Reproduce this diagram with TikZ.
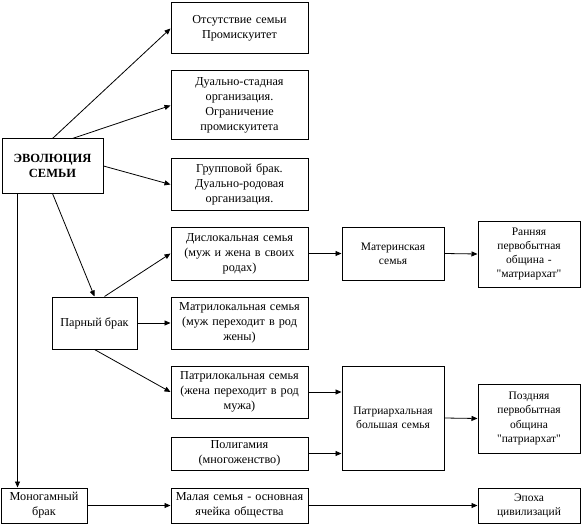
\documentclass[tikz,border=0pt]{standalone}
\usepackage{fontspec}
\setmainfont{Liberation Serif}[Ligatures=TeXOff]
\usetikzlibrary{arrows.meta,positioning,calc}

\begin{document}
\begin{tikzpicture}[
    x=1pt, y=-1pt,
    font=\fontsize{12.2}{15}\selectfont,
    stage/.style={draw=black, fill=white, align=center, inner sep=1pt,
                  line width=1pt, minimum width=137pt, text width=134pt},
    side/.style={draw=black, fill=white, align=center, inner sep=2pt,
                 line width=1pt},
    result/.style={draw=black, fill=white, align=center, inner sep=1pt,
                   line width=1pt, minimum width=102pt, text width=99pt,
                   font=\fontsize{11.5}{14.3}\selectfont},
    arrow/.style={-{Triangle[length=6pt,width=5pt]}, line width=0.8pt, draw=black}
]
\useasboundingbox (0,0) rectangle (581,524);

\node[side, minimum width=101pt, minimum height=54pt, font=\fontsize{12.5}{15}\selectfont\bfseries] (evo) at (52.5,166) {ЭВОЛЮЦИЯ\\СЕМЬИ};

\node[stage, minimum height=51pt] (absent) at (239.5,28.5) {Отсутствие семьи\\Промискуитет};
\node[stage, minimum height=69pt] (dual) at (239.5,105.5) {Дуально-стадная\\организация.\\Ограничение\\промискуитета};
\node[stage, minimum height=51pt] (group) at (239.5,184.5) {Групповой брак.\\Дуально-родовая\\организация.};
\node[stage, minimum height=53pt] (disloc) at (239.5,253.5) {Дислокальная семья\\(муж и жена в своих\\родах)};
\node[stage, minimum height=52pt] (matriloc) at (239.5,323) {Матрилокальная семья\\(муж переходит в род\\жены)};
\node[stage, minimum height=52pt] (patriloc) at (239.5,392) {Патрилокальная семья\\(жена переходит в род\\мужа)};
\node[stage, minimum height=33pt] (polyg) at (239.5,453.5) {Полигамия\\(многоженство)};
\node[stage, minimum height=35pt] (small) at (239.5,505.5) {Малая семья - основная\\ячейка общества};

\node[side, minimum width=85pt, minimum height=52pt] (pair) at (94.5,323) {Парный брак};
\node[side, minimum width=86pt, minimum height=35pt] (mono) at (44,505.5) {Моногамный\\брак};

\node[result, minimum height=53pt] (mother) at (393,253.5) {Материнская\\семья};
\node[result, minimum height=104pt] (patri) at (393,418) {Патриархальная\\большая семья};

\node[result, minimum height=66pt] (early) at (529,254) {Ранняя\\первобытная\\община -\\"матриархат"};
\node[result, minimum height=69pt] (late) at (529,418.5) {Поздняя\\первобытная\\община\\"патриархат"};
\node[result, minimum height=35pt] (epoch) at (529,505.5) {Эпоха\\цивилизаций};

\draw[arrow] (evo.north) -- (absent.west);
\draw[arrow] ([xshift=20pt]evo.north) -- (dual.west);
\draw[arrow] (evo.east) -- (group.west);
\draw[arrow] (evo.south) -- (pair.north);
\draw[arrow] ([xshift=16pt]evo.south west) -- ([xshift=17pt]mono.north west);
\draw[arrow] ([xshift=10pt]pair.north) -- (disloc.west);
\draw[arrow] (pair.east) -- (matriloc.west);
\draw[arrow] (pair.south) -- (patriloc.west);
\draw[arrow] (disloc.east) -- (mother.west);
\draw[arrow] (mother.east) -- (early.west);
\draw[arrow] (patriloc.east) -- (patriloc.east -| patri.west);
\draw[arrow] (polyg.east) -- (polyg.east -| patri.west);
\draw[arrow] (patri.east) -- (late.west);
\draw[arrow] (mono.east) -- (small.west);
\draw[arrow] (small.east) -- (epoch.west);
\end{tikzpicture}
\end{document}
